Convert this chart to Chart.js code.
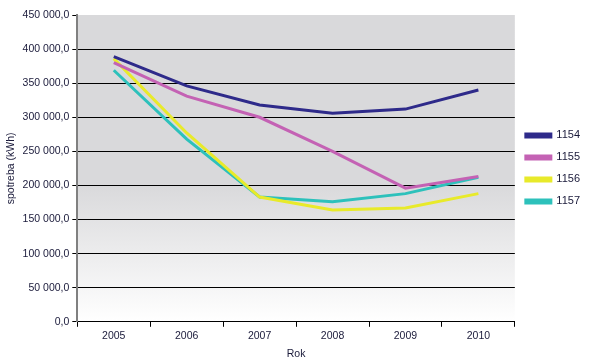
<!DOCTYPE html>
<html>
<head>
<meta charset="utf-8">
<script src="https://cdn.jsdelivr.net/npm/chart.js@4/dist/chart.umd.min.js"></script>
<style>
    html, body { margin: 0; padding: 0; background: #fff; }
    #wrap { width: 600px; height: 361px; }
</style>
</head>
<body>
<div id="wrap"><canvas id="lineChart"></canvas></div>
<script>
// Data
const years = ['2005', '2006', '2007', '2008', '2009', '2010'];
const s1154 = [389000, 346000, 318000, 306000, 312000, 340000];
const s1155 = [380000, 331000, 300000, 250000, 196000, 213000];
const s1156 = [386000, 277000, 183000, 164000, 167000, 188000];
const s1157 = [369000, 268000, 183000, 176000, 188000, 212000];
const seriesNames = ['1154', '1155', '1156', '1157'];
const seriesColors = ['#2e2a8a', '#c462b4', '#e8ea2a', '#2dc1bb'];

function fmt(v) {
    // 450000 -> "450 000,0"
    const s = Math.round(v).toString().replace(/\B(?=(\d{3})+(?!\d))/g, ' ');
    return s + ',0';
}

// plot area background: grey fading to white towards the bottom
const plotBg = {
    id: 'plotBg',
    beforeDraw(chart) {
        const { ctx, chartArea: a } = chart;
        const g = ctx.createLinearGradient(0, a.top, 0, a.bottom);
        g.addColorStop(0, '#d9d9db');
        g.addColorStop(0.55, '#d9d9db');
        g.addColorStop(1, '#ffffff');
        ctx.save();
        ctx.fillStyle = g;
        ctx.fillRect(a.left, a.top, a.right - a.left, a.bottom - a.top);
        ctx.restore();
    }
};

const allSeries = [s1154, s1155, s1156, s1157];

const lineChart = new Chart(document.getElementById('lineChart'), {
    type: 'line',
    data: {
        labels: years,
        datasets: allSeries.map((d, i) => ({
            label: seriesNames[i],
            data: d,
            borderColor: seriesColors[i],
            backgroundColor: seriesColors[i],
            borderWidth: 3,
            pointRadius: 0,
            tension: 0
        }))
    },
    options: {
        responsive: true,
        maintainAspectRatio: false,
        animation: false,
        layout: { padding: { top: 15, right: 10, bottom: 1, left: 5 } },
        plugins: {
            legend: {
                position: 'right',
                fullSize: false,
                labels: {
                    boxWidth: 25,
                    boxHeight: 3,
                    padding: 11,
                    color: '#1a1a3a',
                    font: { family: 'Liberation Sans', size: 11 }
                }
            },
            tooltip: { enabled: false }
        },
        scales: {
            x: {
                offset: true,
                grid: {
                    offset: true,
                    drawOnChartArea: false,
                    drawTicks: true,
                    tickLength: 5,
                    color: '#000'
                },
                border: { color: '#000', width: 1 },
                ticks: {
                    color: '#1a1a3a',
                    padding: 3,
                    font: { family: 'Liberation Sans', size: 10.5 }
                },
                title: {
                    display: true,
                    text: 'Rok',
                    color: '#1a1a3a',
                    padding: { top: 2, bottom: 0 },
                    font: { family: 'Liberation Sans', size: 10.5 }
                }
            },
            y: {
                min: 0,
                max: 450000,
                ticks: {
                    stepSize: 50000,
                    color: '#1a1a3a',
                    padding: 3,
                    callback: v => fmt(v),
                    font: { family: 'Liberation Sans', size: 10.5 }
                },
                grid: {
                    color: ctx => (ctx.tick && ctx.tick.value === 450000) ? 'rgba(0,0,0,0)' : '#000',
                    tickColor: '#000',
                    tickLength: 5,
                    lineWidth: 1
                },
                border: { color: '#808080', width: 2 },
                title: {
                    display: true,
                    text: 'spotreba (kWh)',
                    color: '#1a1a3a',
                    padding: { top: 0, bottom: 2 },
                    font: { family: 'Liberation Sans', size: 10.5 }
                }
            }
        }
    },
    plugins: [plotBg]
});
</script>
</body>
</html>
